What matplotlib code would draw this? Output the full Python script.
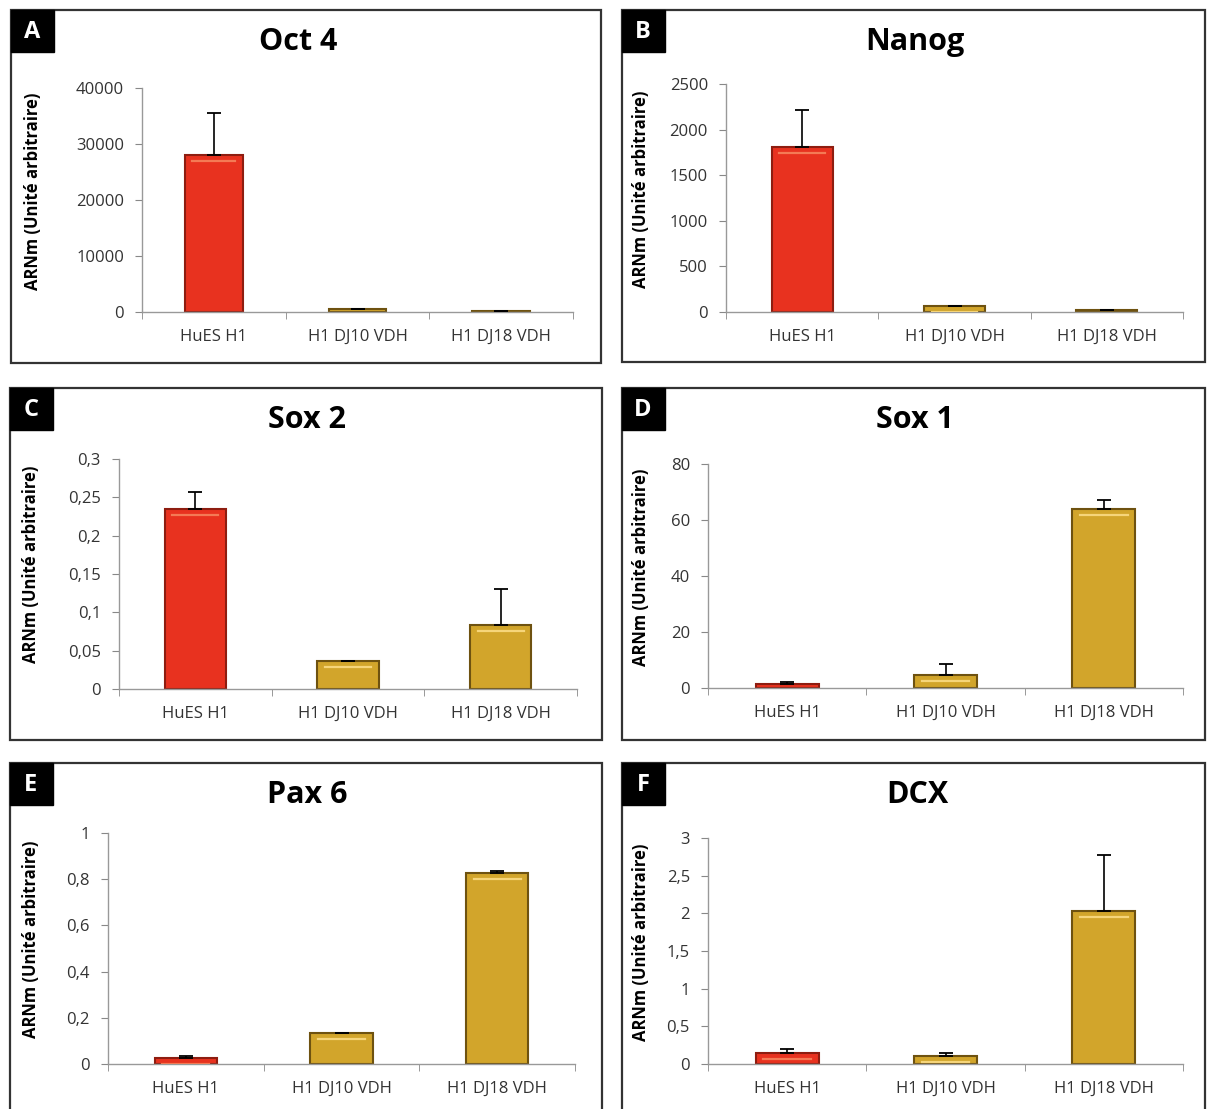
import matplotlib
matplotlib.use("Agg")
import matplotlib.pyplot as plt
from matplotlib.patches import Rectangle
from matplotlib.ticker import FuncFormatter, FixedLocator
from matplotlib.transforms import offset_copy

plt.rcParams['font.family'] = ['Open Sans', 'DejaVu Sans']

# Data
categories = ['HuES H1', 'H1 DJ10 VDH', 'H1 DJ18 VDH']
letters = ['A', 'B', 'C', 'D', 'E', 'F']
titles = ['Oct 4', 'Nanog', 'Sox 2', 'Sox 1', 'Pax 6', 'DCX']

oct4 = [28000, 500, 200]
oct4_err = [7500, 0, 0]
nanog = [1810, 70, 20]
nanog_err = [400, 0, 0]
sox2 = [0.235, 0.037, 0.083]
sox2_err = [0.022, 0, 0.047]
sox1 = [1.5, 4.5, 64]
sox1_err = [0.5, 4.0, 3.0]
pax6 = [0.025, 0.135, 0.825]
pax6_err = [0.01, 0, 0.01]
dcx = [0.14, 0.11, 2.03]
dcx_err = [0.06, 0.03, 0.75]

yticks = [
    [0, 10000, 20000, 30000, 40000],
    [0, 500, 1000, 1500, 2000, 2500],
    [0, 0.05, 0.1, 0.15, 0.2, 0.25, 0.3],
    [0, 20, 40, 60, 80],
    [0, 0.2, 0.4, 0.6, 0.8, 1],
    [0, 0.5, 1, 1.5, 2, 2.5, 3],
]
values = [oct4, nanog, sox2, sox1, pax6, dcx]
errors = [oct4_err, nanog_err, sox2_err, sox1_err, pax6_err, dcx_err]

# Layout in pixels: panel box (l, t, r, b) and axes box (l, t, r, b)
W, H = 1208, 1109
panels = [(11, 10, 601, 363), (622, 10, 1205, 362),
          (10, 388, 602, 740), (622, 388, 1205, 740),
          (10, 763, 602, 1112), (622, 763, 1205, 1112)]
axboxes = [(142, 88, 573, 312), (726, 84, 1183, 312),
           (119, 459, 577, 689), (708, 464, 1183, 688),
           (108, 833, 575, 1064), (708, 838, 1183, 1064)]
ylabel_x = [42, 650, 40, 650, 40, 650]
title_x = [298, 915, 307, 915, 307, 917]

red, red_edge = '#E8321F', '#8E1D10'
gold, gold_edge = '#D2A52B', '#6E5210'
bar_colors = [red, gold, gold]
edge_colors = [red_edge, gold_edge, gold_edge]
highlight = ['#F47A55', '#F6D57A', '#F6D57A']

fig = plt.figure(figsize=(W / 100, H / 100), dpi=100)


def fmt(v, pos):
    return ('%g' % v).replace('.', ',')


for i in range(6):
    pl, pt, pr, pb = panels[i]
    fig.patches.append(Rectangle((pl / W, 1 - pb / H), (pr - pl) / W, (pb - pt) / H,
                                 transform=fig.transFigure, fill=False,
                                 edgecolor='#333333', linewidth=1.6))
    # letter box
    fig.patches.append(Rectangle((pl / W, 1 - (pt + 42) / H), 43 / W, 42 / H,
                                 transform=fig.transFigure, facecolor='black',
                                 edgecolor='black'))
    fig.text((pl + 21) / W, 1 - (pt + 22) / H, letters[i], color='white',
             fontsize=17, fontweight='bold', ha='center', va='center')

    al, at, ar, ab = axboxes[i]
    ax = fig.add_axes([al / W, 1 - ab / H, (ar - al) / W, (ab - at) / H])
    x = range(len(categories))
    bars = ax.bar(x, values[i], width=0.4, color=bar_colors,
                  edgecolor=edge_colors, linewidth=1.5, zorder=2)
    # light highlight line just below the top of each bar
    hl_tr = offset_copy(ax.transData, fig=fig, y=-6, units='dots')
    for b, hc in zip(bars, highlight):
        h = b.get_height()
        ax.plot([b.get_x() + 0.05, b.get_x() + b.get_width() - 0.05], [h, h],
                color=hc, linewidth=1.6, zorder=3, transform=hl_tr)
    ax.errorbar(list(x), values[i], yerr=[[0, 0, 0], errors[i]], fmt='none',
                ecolor='black', elinewidth=1.2, capsize=5, capthick=1.3, zorder=4)

    ax.set_xlim(-0.5, 2.5)
    ax.set_ylim(0, yticks[i][-1])
    ax.set_yticks(yticks[i])
    ax.yaxis.set_major_formatter(FuncFormatter(fmt))
    ax.set_xticks(list(x))
    ax.set_xticklabels(categories)
    ax.xaxis.set_minor_locator(FixedLocator([-0.5, 0.5, 1.5, 2.5]))
    ax.tick_params(axis='x', which='major', length=0, pad=12, labelsize=12, colors='#333333')
    ax.tick_params(axis='x', which='minor', length=5, color='#888888', direction='out')
    ax.tick_params(axis='y', length=5, color='#888888', labelsize=12, colors='#333333', pad=8)
    for s in ['top', 'right']:
        ax.spines[s].set_visible(False)
    for s in ['left', 'bottom']:
        ax.spines[s].set_color('#999999')
        ax.spines[s].set_linewidth(1.0)
    ax.set_ylabel('ARNm (Unité arbitraire)', fontsize=12, fontweight='bold')
    ax.yaxis.set_label_coords((ylabel_x[i] - al) / (ar - al), 0.54)

    fig.text(title_x[i] / W, 1 - (pt + 32) / H, titles[i],
             fontsize=22, fontweight='bold', ha='center', va='center')

fig.savefig('out.png', dpi=100)
